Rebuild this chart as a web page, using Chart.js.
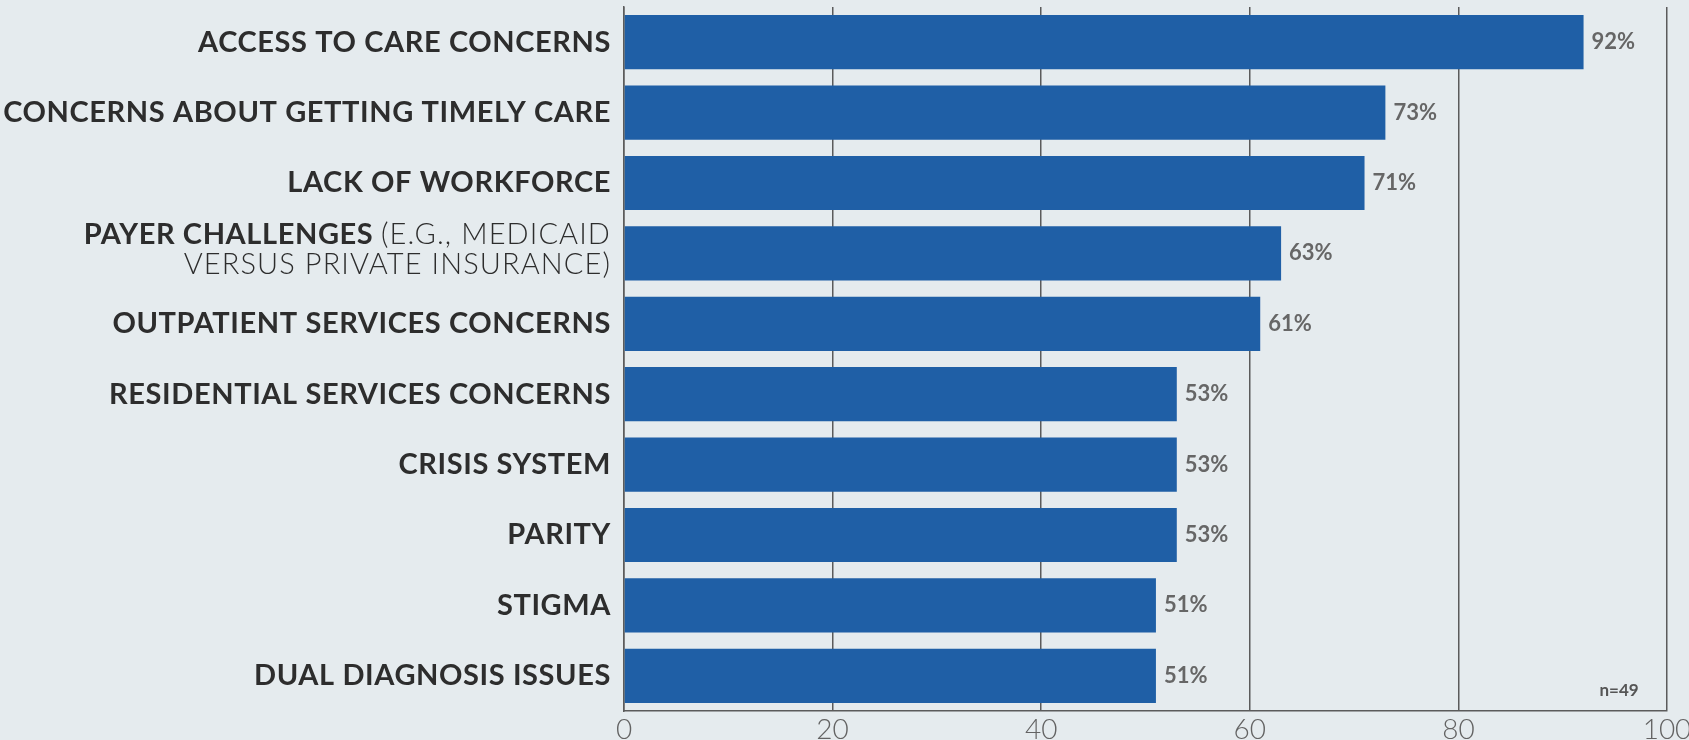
<!DOCTYPE html>
<html>
<head>
<meta charset="utf-8">
<script src="https://cdn.jsdelivr.net/npm/chart.js@4"></script>
<style>
  html, body { margin: 0; padding: 0; background: #e5ebee; }
  #wrap { width: 1689px; height: 740px; }
</style>
</head>
<body>
<div id="wrap"><canvas id="issuesChart" width="1689" height="740"></canvas></div>
<script>
// ==========================================
// Data
// ==========================================

const categories = [
    'ACCESS TO CARE CONCERNS',
    'CONCERNS ABOUT GETTING TIMELY CARE',
    'LACK OF WORKFORCE',
    ['PAYER CHALLENGES (E.G., MEDICAID', 'VERSUS PRIVATE INSURANCE)'],
    'OUTPATIENT SERVICES CONCERNS',
    'RESIDENTIAL SERVICES CONCERNS',
    'CRISIS SYSTEM',
    'PARITY',
    'STIGMA',
    'DUAL DIAGNOSIS ISSUES'
];

const percentValues = [92, 73, 71, 63, 61, 53, 53, 53, 51, 51];

const xTicks = [0, 20, 40, 60, 80, 100];

const sampleNote = 'n=49';

// ==========================================
// Styles
// ==========================================

const BAR_COLOR = '#1f5fa6';
const GRID_COLOR = '#5b5b5b';
const LABEL_COLOR = '#2d2d2d';
const VALUE_COLOR = '#666666';
const FONT = 'Lato, "Open Sans", "DejaVu Sans", sans-serif';

// ==========================================
// Plugins
// ==========================================

// category labels, bold with a light part after "(" and on following lines
const categoryLabelPlugin = {
    id: 'categoryLabels',
    afterDraw(chart) {
        const ctx = chart.ctx;
        const yScale = chart.scales.y;
        const right = chart.chartArea.left - 13;

        ctx.save();
        ctx.textBaseline = 'middle';
        ctx.textAlign = 'left';
        ctx.fillStyle = LABEL_COLOR;

        function setRun(weight) {
            ctx.font = weight + ' 29px ' + FONT;
            ctx.letterSpacing = weight === 'bold' ? '0.6px' : '1.1px';
        }

        categories.forEach(function (label, i) {
            const yc = yScale.getPixelForTick(i);
            const lines = Array.isArray(label) ? label : [label];
            const lineGap = 30;
            const top = yc - 4 - (lines.length - 1) * lineGap / 2;

            lines.forEach(function (line, li) {
                let runs;
                if (li > 0) {
                    runs = [[line, '300']];
                } else {
                    const p = line.indexOf('(');
                    runs = p > 0 ? [[line.slice(0, p), 'bold'], [line.slice(p), '300']] : [[line, 'bold']];
                }
                let total = 0;
                runs.forEach(function (r) {
                    setRun(r[1]);
                    total += ctx.measureText(r[0]).width;
                });
                let x = right - total;
                const y = lines.length > 1 ? top + li * lineGap : yc;
                runs.forEach(function (r) {
                    setRun(r[1]);
                    ctx.fillText(r[0], x, y);
                    x += ctx.measureText(r[0]).width;
                });
            });
        });
        ctx.restore();
    }
};

// percentage labels at the end of each bar, plus the sample size note
const valueLabelPlugin = {
    id: 'valueLabels',
    afterDatasetsDraw(chart) {
        const ctx = chart.ctx;
        const meta = chart.getDatasetMeta(0);

        ctx.save();
        ctx.font = 'bold 22px ' + FONT;
        ctx.fillStyle = VALUE_COLOR;
        ctx.textAlign = 'left';
        ctx.textBaseline = 'middle';
        meta.data.forEach(function (bar, i) {
            ctx.fillText(percentValues[i] + '%', bar.x + 8, bar.y);
        });

        ctx.font = 'bold 17px ' + FONT;
        ctx.fillStyle = '#555555';
        ctx.textAlign = 'center';
        ctx.fillText(sampleNote, chart.scales.x.getPixelForValue(95.4), chart.chartArea.bottom - 20);
        ctx.restore();
    }
};

// ==========================================
// Chart
// ==========================================

function createChart() {
    const ctx = document.getElementById('issuesChart').getContext('2d');

    new Chart(ctx, {
        type: 'bar',
        data: {
            labels: categories,
            datasets: [{
                data: percentValues,
                backgroundColor: BAR_COLOR,
                borderWidth: 0,
                barPercentage: 0.77,
                categoryPercentage: 1.0
            }]
        },
        options: {
            indexAxis: 'y',
            responsive: false,
            animation: false,
            layout: {
                padding: { top: 7, right: 22, left: 0, bottom: 0 }
            },
            plugins: {
                legend: { display: false },
                tooltip: { enabled: false }
            },
            scales: {
                x: {
                    type: 'linear',
                    min: 0,
                    max: 100,
                    afterBuildTicks(scale) {
                        scale.ticks = xTicks.map(function (v) { return { value: v }; });
                    },
                    afterFit(scale) {
                        scale.height = 29;
                        scale.paddingLeft = 0;
                        scale.paddingRight = 0;
                    },
                    grid: {
                        color: GRID_COLOR,
                        lineWidth: 1.5,
                        drawTicks: false
                    },
                    border: { color: GRID_COLOR, width: 1.5 },
                    ticks: {
                        padding: 2,
                        maxRotation: 0,
                        color: '#636363',
                        font: { family: FONT, size: 28, weight: '300' }
                    }
                },
                y: {
                    type: 'category',
                    afterFit(scale) {
                        scale.width = 624;
                    },
                    grid: { display: false },
                    border: { color: GRID_COLOR, width: 1.5 },
                    ticks: { display: false }
                }
            }
        },
        plugins: [categoryLabelPlugin, valueLabelPlugin]
    });
}

document.addEventListener('DOMContentLoaded', createChart);
</script>
</body>
</html>
